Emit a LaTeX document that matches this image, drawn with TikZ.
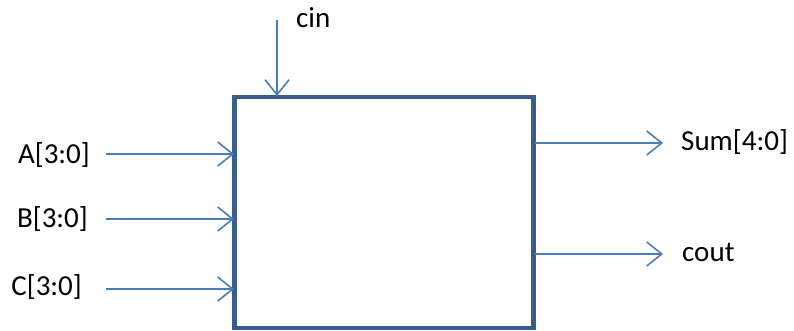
\documentclass[tikz,border=0pt]{standalone}
\usepackage{fontspec}
\setmainfont{Carlito}
\usetikzlibrary{arrows.meta}
\definecolor{boxblue}{HTML}{385D8A}
\definecolor{wireblue}{HTML}{4A7EBB}
\begin{document}
\begin{tikzpicture}[x=1pt,y=-1pt,
  wire/.style={draw=wireblue,line width=1.6pt,-{Straight Barb[length=15pt,width=24pt,line width=1.6pt]}},
  lbl/.style={font=\fontsize{29}{34}\selectfont,inner sep=0pt}]
\useasboundingbox (0,0) rectangle (794,330);
\node[draw=boxblue,line width=4.5pt,minimum width=299pt,minimum height=231pt,inner sep=0pt] (box) at (384,212.5) {};
% inputs
\node[lbl,anchor=east] (A) at (90,155) {A[3:0]};
\node[lbl,anchor=east] (B) at (88,219) {B[3:0]};
\node[lbl,anchor=east] (C) at (82,287) {C[3:0]};
\coordinate (a0) at (106,154); \coordinate (a1) at (234,154);
\coordinate (b0) at (106,219); \coordinate (b1) at (234,219);
\coordinate (c0) at (106,289); \coordinate (c1) at (234,289);
\draw[wire] (a0) -- (a1);
\draw[wire] (b0) -- (b1);
\draw[wire] (c0) -- (c1);
% cin
\node[lbl,anchor=west] (cin) at (296,18) {cin};
\coordinate (cin0) at (277,20); \coordinate (cin1) at (277,96);
\draw[wire] (cin0) -- (cin1);
% outputs
\coordinate (s0) at (535,143); \coordinate (s1) at (663,143);
\coordinate (o0) at (535,254); \coordinate (o1) at (663,254);
\draw[wire] (s0) -- (s1);
\draw[wire] (o0) -- (o1);
\node[lbl,anchor=west] (sum) at (681,142) {Sum[4:0]};
\node[lbl,anchor=west] (cout) at (682,252) {cout};
\end{tikzpicture}
\end{document}
